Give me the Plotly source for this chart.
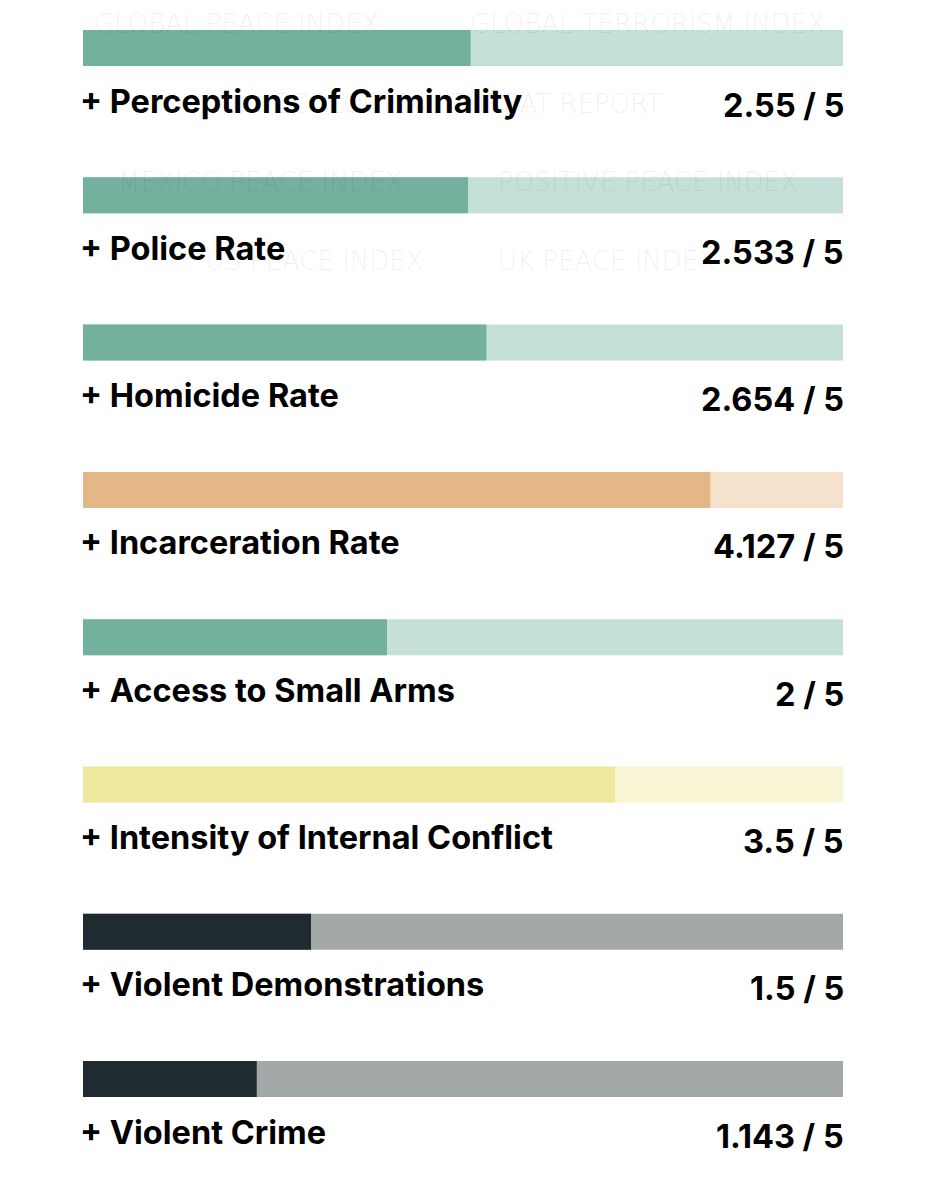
import plotly.graph_objects as go

# Indicadores y sus puntajes (sobre 5)
categories = ["Perceptions of Criminality", "Police Rate", "Homicide Rate",
              "Incarceration Rate", "Access to Small Arms",
              "Intensity of Internal Conflict", "Violent Demonstrations",
              "Violent Crime"]
scores = [2.55, 2.533, 2.654, 4.127, 2, 3.5, 1.5, 1.143]
score_labels = ["2.55", "2.533", "2.654", "4.127", "2", "3.5", "1.5", "1.143"]
max_score = 5
levels = ["green", "green", "green", "orange", "green", "yellow", "dark", "dark"]

# Menu que se ve detras (texto tenue)
menu_items = ["GLOBAL PEACE INDEX", "GLOBAL TERRORISM INDEX",
              "ECOLOGICAL THREAT REPORT",
              "MEXICO PEACE INDEX", "POSITIVE PEACE INDEX",
              "US PEACE INDEX", "UK PEACE INDEX"]

palette = {
    "green": ("#73b19e", "#c4e0d8"),
    "orange": ("#e3b886", "#f5e2cc"),
    "yellow": ("#ede89b", "#f8f5d5"),
    "dark": ("#1f2b31", "#a3a8a9"),
}

W, H = 910, 1184
off = 8  # margen del body de la pagina
row_px = 147.3
first_px = 48 - off
left_px = 83 - off
unit_px = 152
rows = list(range(len(categories)))

fig = go.Figure()
fig.add_trace(go.Bar(
    y=rows, x=[max_score] * len(rows), orientation="h", width=36 / row_px,
    marker_color=[palette[l][1] for l in levels], marker_line_width=0,
    hoverinfo="skip"))
fig.add_trace(go.Bar(
    y=rows, x=scores, orientation="h", width=36 / row_px,
    marker_color=[palette[l][0] for l in levels], marker_line_width=0,
    hovertext=categories, hoverinfo="text+x"))

# Texto tenue del menu
menu_pos = [(236, 24), (647, 24), (468, 104), (260, 182), (648, 182),
            (314, 261), (607, 261)]
for txt, (px, py) in zip(menu_items, menu_pos):
    fig.add_annotation(x=(px - off) / W, y=1 - (py - off) / H,
                       xref="paper", yref="paper",
                       text=txt, showarrow=False, xanchor="center",
                       yanchor="middle",
                       font=dict(family="DejaVu Sans", size=26, weight=200,
                                 color="rgba(0,0,0,0.07)"))

# Etiquetas y valores
for i, (cat, lab) in enumerate(zip(categories, score_labels)):
    fig.add_annotation(x=-5 / unit_px, y=i + 53 / row_px, text="+ " + cat,
                       showarrow=False, xanchor="left", yanchor="middle",
                       font=dict(family="Inter", size=32.5, weight=700,
                                 color="#000000"))
    fig.add_annotation(x=max_score + 3 / unit_px, y=i + 57 / row_px,
                       text=f"{lab} / {max_score}",
                       showarrow=False, xanchor="right", yanchor="middle",
                       font=dict(family="Inter", size=32.5, weight=700,
                                 color="#000000"))

fig.update_layout(
    width=W, height=H, barmode="overlay", showlegend=False,
    margin=dict(l=0, r=0, t=0, b=0),
    paper_bgcolor="white", plot_bgcolor="white",
    xaxis=dict(range=[-left_px / unit_px, (W - left_px) / unit_px],
               visible=False, fixedrange=True),
    yaxis=dict(range=[(H - first_px) / row_px, -first_px / row_px],
               visible=False, fixedrange=True),
)

fig.write_html("out.html")
